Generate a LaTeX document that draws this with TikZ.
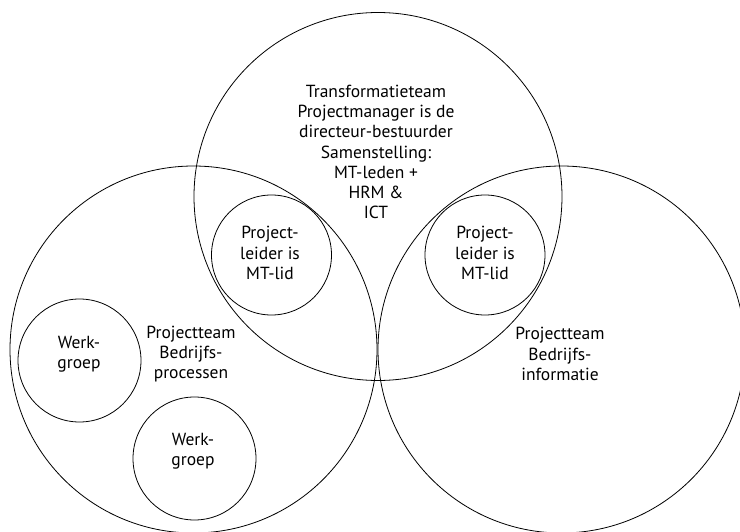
\documentclass[tikz,border=0pt]{standalone}
\usepackage{fontspec}
\setmainfont{PT Sans}
\begin{document}
\begin{tikzpicture}[x=1pt,y=-1pt,
  ring/.style={circle, draw=black, line width=0.8pt, inner sep=0pt},
  lbl/.style={align=center, inner sep=0pt, font=\fontsize{17.5}{20.3}\selectfont}]
\useasboundingbox (0,0) rectangle (740,532);
\clip (0,0) rectangle (740,532);
% three overlapping team circles
\node[ring, minimum size=368pt] (transf) at (378,196.5) {};
\node[ring, minimum size=367pt] (procs)  at (193.5,349.5) {};
\node[ring, minimum size=367pt] (info)   at (561.5,349.5) {};
% project leaders and work groups
\node[ring, minimum size=120pt] (leidA) at (271.5,255) {};
\node[ring, minimum size=120pt] (leidB) at (485,255) {};
\node[ring, minimum size=123pt] (werkA) at (79.5,360.5) {};
\node[ring, minimum size=123pt] (werkB) at (194.5,458.5) {};
% texts
\node[lbl] (tTransf) at (376,152) {Transformatieteam\\Projectmanager is de\\directeur-bestuurder\\Samenstelling:\\MT-leden +\\HRM \&\\ICT};
\node[lbl] (tLeidA) at (270,253) {Project-\\leider is\\MT-lid};
\node[lbl] (tLeidB) at (485,253) {Project-\\leider is\\MT-lid};
\node[lbl] (tWerkA) at (79,354) {Werk-\\groep};
\node[lbl] (tWerkB) at (193,451) {Werk-\\groep};
\node[lbl] (tProcs) at (191,354) {Projectteam\\Bedrijfs-\\processen};
\node[lbl] (tInfo) at (560,354) {Projectteam\\Bedrijfs-\\informatie};
\end{tikzpicture}
\end{document}
